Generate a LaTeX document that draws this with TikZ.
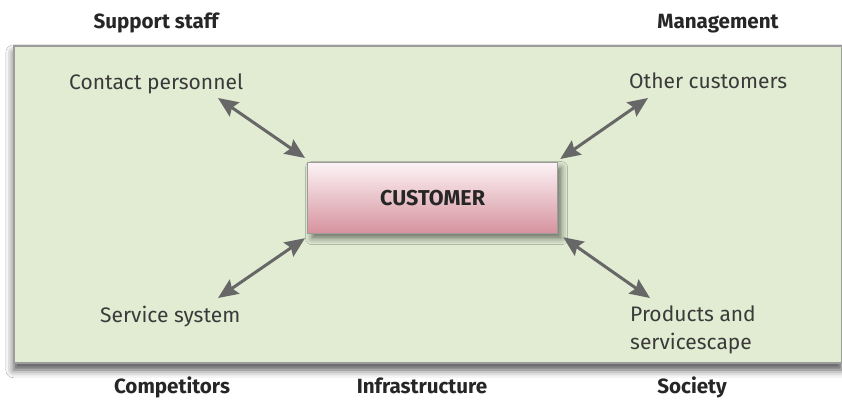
\documentclass[tikz,border=0pt]{standalone}
\usepackage{fontspec}
\setmainfont{Fira Sans}
\usetikzlibrary{arrows.meta,shadows.blur,calc}
\definecolor{panel}{HTML}{E1ECD3}
\definecolor{panelline}{HTML}{9C9C9C}
\definecolor{arrgray}{HTML}{676767}
\definecolor{txt}{HTML}{3A3A3A}
\definecolor{pinktop}{HTML}{FCF3F6}
\definecolor{pinkbot}{HTML}{D6929D}
\tikzset{
  outer/.style={font=\fontsize{20.6}{22}\selectfont\bfseries, text=black!85, inner sep=0pt, anchor=base},
  inner/.style={font=\fontsize{21}{28}\selectfont, text=txt, inner sep=0pt, align=left, anchor=base west},
  arr/.style={draw=arrgray, line width=3pt, {Stealth[length=20pt,width=17pt,inset=3pt]}-{Stealth[length=20pt,width=17pt,inset=3pt]}},
}
\begin{document}
\begin{tikzpicture}[x=1pt,y=-1pt]
\useasboundingbox (0,0) rectangle (842,400);
\fill[white] (0,0) rectangle (842,400);
\node[draw=panelline, line width=1.5pt, fill=panel, minimum width=828pt, minimum height=317pt, anchor=north west,
  blur shadow={shadow xshift=0pt, shadow yshift=-7pt, shadow blur radius=8pt, shadow opacity=70}] (panel) at (13,45) {};
\node[draw=panelline, line width=1.2pt, top color=pinktop, bottom color=pinkbot, minimum width=250pt, minimum height=71pt, anchor=north west,
  blur shadow={shadow xshift=4pt, shadow yshift=-5pt, shadow blur radius=6pt, shadow opacity=50},
  font=\fontsize{21.5}{24}\selectfont\bfseries, text=black!85] (cust) at (307,162) {CUSTOMER};

\node[outer] (sup) at (156,28) {Support staff};
\node[outer] (man) at (718,28) {Management};
\node[outer] (comp) at (172,393) {Competitors};
\node[outer] (infra) at (422,393) {Infrastructure};
\node[outer] (soc) at (692,393) {Society};

\node[inner] (cp) at (69,89) {Contact personnel};
\node[inner] (oc) at (629,88) {Other customers};
\node[inner] (ss) at (100,322) {Service system};
\node[inner] (ps) at (630,349) {Products and\\servicescape};

\coordinate (cpend) at (218,98);
\coordinate (ocend) at (648,98);
\coordinate (ssend) at (218,298);
\coordinate (psend) at (650,298);

\draw[arr] (cpend) -- ($(cust.north west)+(-2,-4)$);
\draw[arr] (ocend) -- ($(cust.north east)+(2,-3)$);
\draw[arr] (ssend) -- ($(cust.south west)+(-2,4)$);
\draw[arr] (psend) -- ($(cust.south east)+(5,3)$);
\end{tikzpicture}
\end{document}
